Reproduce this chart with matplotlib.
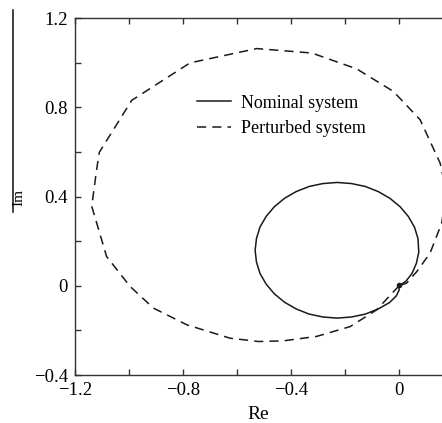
import matplotlib
matplotlib.use('Agg')
import matplotlib.pyplot as plt
from matplotlib.ticker import MultipleLocator, FuncFormatter
from matplotlib.lines import Line2D

plt.rcParams['font.family'] = ['Liberation Serif', 'DejaVu Serif']
plt.rcParams['font.size'] = 13

# nominal system (solid)
nom_re = [0.0, 0.025, 0.048, 0.064, 0.073, 0.070, 0.057, 0.034, 0.004, -0.034,
          -0.077, -0.125, -0.176, -0.229, -0.282, -0.333, -0.381, -0.424, -0.462,
          -0.492, -0.515, -0.528, -0.533, -0.528, -0.515, -0.492, -0.462, -0.424,
          -0.381, -0.333, -0.282, -0.229, -0.176, -0.125, -0.077, -0.035, -0.010,
          0.0, 0.0]
nom_im = [0.0, 0.020, 0.055, 0.100, 0.150, 0.212, 0.263, 0.311, 0.354, 0.392,
          0.422, 0.445, 0.458, 0.463, 0.458, 0.445, 0.422, 0.392, 0.354,
          0.311, 0.263, 0.212, 0.159, 0.106, 0.055, 0.007, -0.036, -0.074,
          -0.104, -0.127, -0.140, -0.145, -0.140, -0.127, -0.104, -0.075, -0.045,
          -0.020, 0.0]

# perturbed system (dashed)
per_re = [0.0, -0.083, -0.181, -0.305, -0.429, -0.520, -0.626, -0.786, -0.910,
          -0.996, -1.083, -1.138, -1.120, -1.110, -0.990, -0.774, -0.527, -0.323,
          -0.157, -0.021, 0.078, 0.152, 0.175, 0.158, 0.115, 0.066, 0.028, 0.0]
per_im = [0.0, -0.108, -0.183, -0.227, -0.247, -0.250, -0.235, -0.175, -0.100,
          -0.003, 0.131, 0.356, 0.520, 0.598, 0.831, 0.999, 1.063, 1.043,
          0.972, 0.871, 0.744, 0.550, 0.420, 0.281, 0.147, 0.064, 0.012, 0.0]

fig = plt.figure(figsize=(4.42, 4.23), dpi=100)
ax = fig.add_axes([75/442., 48/423., 367/442., 357/423.])

ax.plot(nom_re, nom_im, color='#1a1a1a', linewidth=1.1, label='Nominal system')
ax.plot(per_re, per_im, color='#1a1a1a', linewidth=1.1, linestyle=(0, (6, 4)),
        label='Perturbed system')
ax.plot([0.0], [0.004], 'o', color='#1a1a1a', markersize=3)

ax.set_xlim(-1.2, 0.159)
ax.set_ylim(-0.4, 1.2)
ax.spines['right'].set_visible(False)
for s in ['left', 'bottom', 'top']:
    ax.spines[s].set_color('#333333')
    ax.spines[s].set_linewidth(1.0)

fmt = FuncFormatter(lambda v, p: '0' if abs(v) < 1e-9 else ('%.1f' % v).replace('-', '\u2212')
                    if abs(round(v / 0.4) - v / 0.4) < 1e-6 else '')
ax.xaxis.set_major_locator(MultipleLocator(0.2))
ax.yaxis.set_major_locator(MultipleLocator(0.2))
ax.xaxis.set_major_formatter(fmt)
ax.yaxis.set_major_formatter(fmt)
ax.tick_params(direction='in', length=4, width=1, color='#333333', pad=5,
               top=True, right=False, labelsize=13.5)

ax.set_xlabel('Re', fontsize=14, labelpad=5)

# y label drawn at far left, with the stray vertical rule seen in the source
fig.text(19/442., 1 - 197/423., 'Im', rotation=90, ha='center', va='center', fontsize=11)
fig.add_artist(Line2D([13/442., 13/442.], [1 - 10/423., 1 - 212/423.],
                      color='#222222', linewidth=1.2))

ax.legend(loc='upper left', bbox_to_anchor=(0.332, 0.785), frameon=False,
          handlelength=1.9, handletextpad=0.55, labelspacing=0.45,
          borderpad=0, borderaxespad=0, fontsize=13)

fig.savefig('out.png', dpi=100)
